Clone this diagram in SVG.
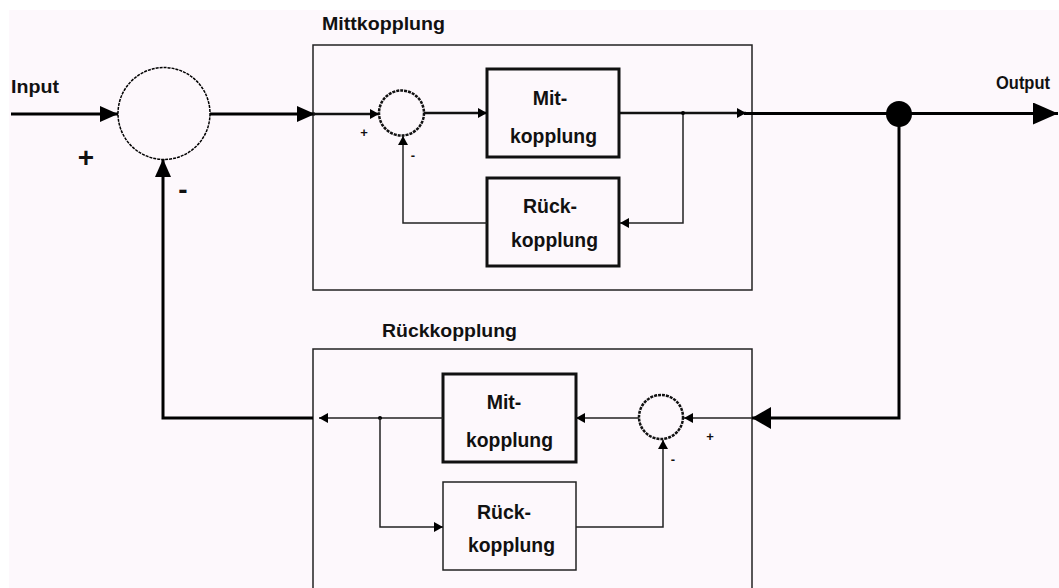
<svg xmlns="http://www.w3.org/2000/svg" width="1059" height="588" viewBox="0 0 1059 588">
<style>
.t{font-family:"Liberation Sans",Arial,sans-serif;font-weight:bold;fill:#111;}
.lbl{font-size:19px;}
.box{font-size:19.5px;}
.mid{text-anchor:middle;}
.sm{font-size:13px;text-anchor:middle;}
.big{font-size:28px;text-anchor:middle;}
.frame{fill:none;stroke:#222;stroke-width:1.5;}
.blk{fill:none;stroke:#111;stroke-width:3;}
.blkt{fill:none;stroke:#222;stroke-width:1.5;}
.w3{fill:none;stroke:#000;stroke-width:3;}
.w2{fill:none;stroke:#111;stroke-width:2.5;}
.w1{fill:none;stroke:#222;stroke-width:1.5;}
</style>
<defs>
<marker id="ab" markerUnits="userSpaceOnUse" markerWidth="18" markerHeight="16" refX="18" refY="8" orient="auto"><path d="M0,0 L18,8 L0,16 z" fill="#000"/></marker>
<marker id="ao" markerUnits="userSpaceOnUse" markerWidth="25" markerHeight="22" refX="25" refY="11" orient="auto"><path d="M0,0 L25,11 L0,22 z" fill="#000"/></marker>
<marker id="ar" markerUnits="userSpaceOnUse" markerWidth="19" markerHeight="22" refX="19" refY="11" orient="auto"><path d="M0,0 L19,11 L0,22 z" fill="#000"/></marker>
<marker id="as" markerUnits="userSpaceOnUse" markerWidth="9" markerHeight="10" refX="9" refY="5" orient="auto"><path d="M0,0 L9,5 L0,10 z" fill="#000"/></marker>
</defs>
<rect x="0" y="0" width="1059" height="588" fill="#ffffff"/>
<rect x="9" y="10" width="1050" height="578" fill="#fdf8fc"/>

<g id="labels">
<text class="t lbl" x="11" y="93" textLength="48" lengthAdjust="spacingAndGlyphs">Input</text>
<text class="t lbl" x="996" y="89" textLength="54" lengthAdjust="spacingAndGlyphs">Output</text>
<text class="t big" x="86" y="167">+</text>
<text class="t big" x="183" y="199">-</text>
</g>

<g id="mittkopplung-frame">
<rect class="frame" x="313" y="45" width="439" height="245"/>
<text class="t lbl" x="322" y="30" textLength="123" lengthAdjust="spacingAndGlyphs">Mittkopplung</text>
</g>
<g id="rueckkopplung-frame">
<rect class="frame" x="313" y="349" width="439" height="260"/>
<text class="t lbl" x="382" y="337" textLength="135" lengthAdjust="spacingAndGlyphs">Rückkopplung</text>
</g>

<g id="sum-main">
<circle cx="164" cy="113.5" r="46" fill="none" stroke="#000" stroke-width="1.5" stroke-dasharray="3 1"/>
</g>
<g id="sum-top">
<circle cx="401.5" cy="113" r="22.5" fill="none" stroke="#111" stroke-width="2.5" stroke-dasharray="3 1"/>
<text class="t sm" x="364" y="137">+</text>
<text class="t sm" x="413" y="160">-</text>
</g>
<g id="sum-bottom">
<circle cx="661" cy="417" r="22" fill="none" stroke="#111" stroke-width="2.5" stroke-dasharray="3 1"/>
<text class="t sm" x="710" y="441">+</text>
<text class="t sm" x="673" y="464">-</text>
</g>

<g id="top-mit">
<rect class="blk" x="487" y="69" width="132" height="88"/>
<text class="t box mid" x="550" y="105">Mit-</text>
<text class="t box" x="510" y="143" textLength="87" lengthAdjust="spacingAndGlyphs">kopplung</text>
</g>
<g id="top-rueck">
<rect class="blk" x="487" y="178" width="132" height="88"/>
<text class="t box mid" x="550" y="213">Rück-</text>
<text class="t box" x="511" y="247" textLength="87" lengthAdjust="spacingAndGlyphs">kopplung</text>
</g>
<g id="bottom-mit">
<rect class="blk" x="443" y="374" width="133" height="88"/>
<text class="t box mid" x="504" y="409">Mit-</text>
<text class="t box" x="466" y="447" textLength="87" lengthAdjust="spacingAndGlyphs">kopplung</text>
</g>
<g id="bottom-rueck">
<rect class="blkt" x="443" y="482" width="133" height="88"/>
<text class="t box mid" x="504" y="519">Rück-</text>
<text class="t box" x="468" y="552" textLength="87" lengthAdjust="spacingAndGlyphs">kopplung</text>
</g>
<g id="junction">
<circle cx="899" cy="114" r="13" fill="#000"/>
</g>

<g id="connectors">
<path class="w3" d="M11,114 H118" marker-end="url(#ab)"/>
<path class="w3" d="M210,114 H315" marker-end="url(#ab)"/>
<path class="w2" d="M313,114 H379" marker-end="url(#as)"/>
<path class="w2" d="M424,113 H487" marker-end="url(#as)"/>
<path class="w2" d="M619,113 H746" marker-end="url(#as)"/>
<path class="w3" d="M744,113.5 H1058" marker-end="url(#ao)"/>
<path class="w1" d="M683,113 V223 H620" marker-end="url(#as)"/>
<path class="w1" d="M487,223 H403 V136" marker-end="url(#as)"/>
<circle cx="683" cy="113" r="2" fill="#000"/>
<path class="w3" d="M899,114 V418 H752" marker-end="url(#ar)"/>
<path class="w1" d="M752,418 H684" marker-end="url(#as)"/>
<path class="w1" d="M639,418 H576" marker-end="url(#as)"/>
<path class="w1" d="M443,418 H319" marker-end="url(#as)"/>
<path class="w3" d="M313,418 H163 V159" marker-end="url(#ab)"/>
<circle cx="380" cy="418" r="2" fill="#000"/>
<path class="w1" d="M380,418 V527 H443" marker-end="url(#as)"/>
<path class="w1" d="M576,527 H663 V440" marker-end="url(#as)"/>
</g>
</svg>
